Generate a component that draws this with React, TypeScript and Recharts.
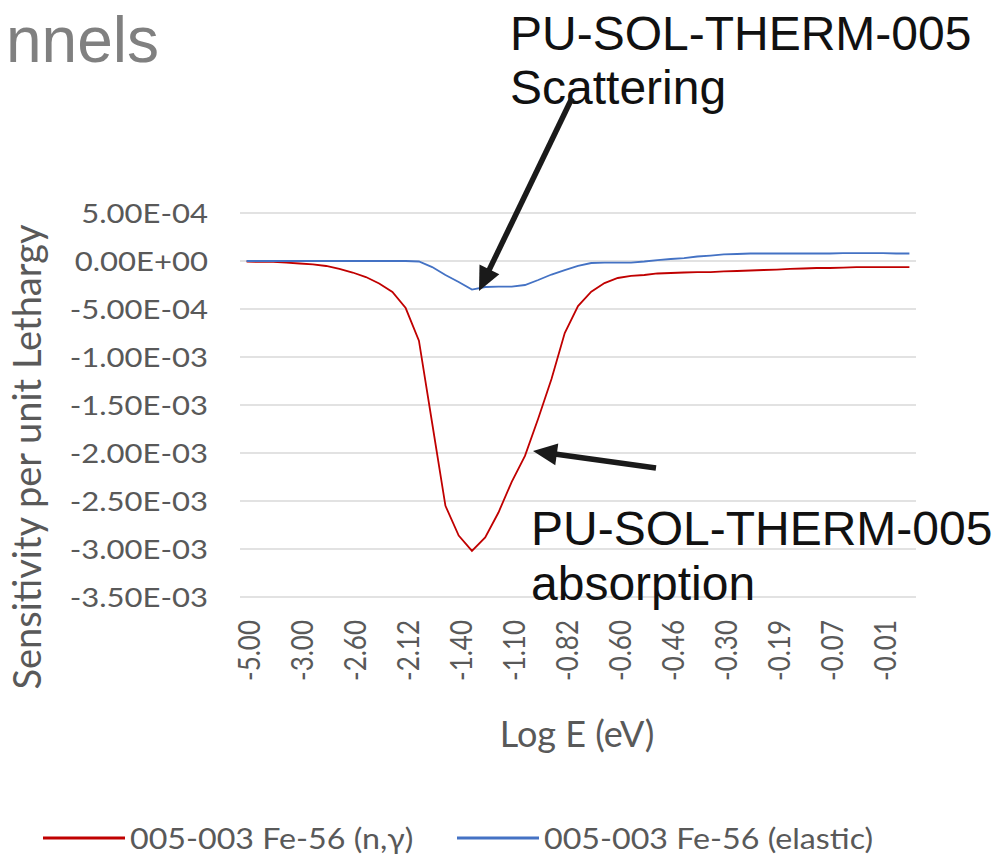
import React from "react";
import { LineChart, Line, XAxis, YAxis, CartesianGrid, Legend } from "recharts";

// tick labels shown under every 4th point of the category axis
const logELabels = ["-5.00", "-3.00", "-2.60", "-2.12", "-1.40", "-1.10", "-0.82", "-0.60", "-0.46", "-0.30", "-0.19", "-0.07", "-0.01"];

const yTicks = [0.0005, 0, -0.0005, -0.001, -0.0015, -0.002, -0.0025, -0.003, -0.0035];

// 005-003 Fe-56 (n,y)
const ngamma = [
  -5e-6, -1.0e-5, -1.0e-5, -1.6e-5, -2.6e-5, -3.6e-5, -5.2e-5, -8.3e-5, -1.2e-4, -1.67e-4,
  -2.34e-4, -3.23e-4, -4.9e-4, -8.3e-4, -1.69e-3, -2.55e-3, -2.86e-3, -3.02e-3, -2.88e-3, -2.62e-3,
  -2.3e-3, -2.03e-3, -1.64e-3, -1.23e-3, -7.5e-4, -4.7e-4, -3.2e-4, -2.3e-4, -1.77e-4, -1.56e-4,
  -1.46e-4, -1.3e-4, -1.25e-4, -1.2e-4, -1.15e-4, -1.15e-4, -1.09e-4, -1.04e-4, -9.9e-5, -9.4e-5,
  -8.9e-5, -8.3e-5, -7.8e-5, -7.3e-5, -7.3e-5, -6.8e-5, -6.3e-5, -6.3e-5, -6.3e-5, -6.3e-5, -6.3e-5,
];

// 005-003 Fe-56 (elastic)
const elastic = [
  0, 0, 0, 0, 0, 0, 0, 0, 0, 0,
  0, 0, 0, -5e-6, -6.3e-5, -1.46e-4, -2.19e-4, -2.97e-4, -2.71e-4, -2.66e-4,
  -2.66e-4, -2.5e-4, -1.98e-4, -1.41e-4, -9.4e-5, -5.2e-5, -2.1e-5, -1.6e-5, -1.6e-5, -1.6e-5,
  -5e-6, 1.0e-5, 2.1e-5, 3.1e-5, 4.7e-5, 5.7e-5, 6.8e-5, 7.3e-5, 7.8e-5, 7.8e-5,
  7.8e-5, 7.8e-5, 7.8e-5, 7.8e-5, 7.8e-5, 8.3e-5, 8.3e-5, 8.3e-5, 8.3e-5, 7.8e-5, 7.8e-5,
];

const seriesOrder = ["ngamma", "elastic"];

const data = ngamma.map((v, i) => ({ idx: i, ngamma: v, elastic: elastic[i] }));

const FONT = "Lato, 'Open Sans', sans-serif";
const AXIS_GREY = "#595959";

const fmtSci = (v: number) => {
  const [m, e] = v.toExponential(2).split("e");
  const sign = e[0] === "-" ? "-" : "+";
  const digits = e.replace(/[+-]/, "").padStart(2, "0");
  return `${m}E${sign}${digits}`;
};

const YTick = (props: any) => {
  const { x, y, payload } = props;
  return (
    <g transform={`translate(${x},${y}) scale(1.15,1)`}>
      <text x={0} y={10} textAnchor="end" fontFamily={FONT} fontSize={27} fill={AXIS_GREY}>
        {fmtSci(payload.value)}
      </text>
    </g>
  );
};

const XTick = (props: any) => {
  const { x, y, payload } = props;
  const label = logELabels[payload.value / 4];
  if (label === undefined) return null;
  return (
    <g transform={`translate(${x + 3},${y}) scale(1.15,1) rotate(-90)`}>
      <text x={0} y={9} textAnchor="end" fontFamily={FONT} fontSize={26} fill={AXIS_GREY}>
        {label}
      </text>
    </g>
  );
};

const renderLegend = (props: any) => {
  const payload = [...(props.payload || [])].sort(
    (a: any, b: any) => seriesOrder.indexOf(a.dataKey) - seriesOrder.indexOf(b.dataKey)
  );
  return (
    <div style={{ display: "flex", alignItems: "center", height: 40, paddingLeft: 43, fontFamily: FONT, fontSize: 28, color: AXIS_GREY }}>
      {payload.map((entry: any, i: number) => (
        <div key={i} style={{ display: "flex", alignItems: "center", width: i === 0 ? 414 : undefined }}>
          <svg width={82} height={6} style={{ display: "block" }}>
            <line x1={0} y1={3} x2={82} y2={3} stroke={entry.color} strokeWidth={3} />
          </svg>
          <span style={{ marginLeft: 5, display: "inline-block", transform: "scaleX(1.15)", transformOrigin: "left center", whiteSpace: "nowrap" }}>
            {entry.value}
          </span>
        </div>
      ))}
    </div>
  );
};

const Arrow = ({ x1, y1, x2, y2 }: { x1: number; y1: number; x2: number; y2: number }) => {
  const dx = x2 - x1;
  const dy = y2 - y1;
  const len = Math.sqrt(dx * dx + dy * dy);
  const ux = dx / len;
  const uy = dy / len;
  const headLen = 24;
  const half = 11;
  const bx = x2 - ux * headLen;
  const by = y2 - uy * headLen;
  return (
    <g>
      <line x1={x1} y1={y1} x2={bx + ux * 2} y2={by + uy * 2} stroke="#1a1a1a" strokeWidth={5.5} />
      <polygon
        points={`${x2},${y2} ${bx - uy * half},${by + ux * half} ${bx + uy * half},${by - ux * half}`}
        fill="#1a1a1a"
      />
    </g>
  );
};

export default function App() {
  return (
    <div style={{ position: "absolute", left: 0, top: 0, width: 996, height: 860, background: "#fff" }}>
      <LineChart width={996} height={860} data={data} margin={{ top: 213, right: 80, bottom: 2, left: 0 }}>
        <CartesianGrid vertical={false} stroke="#d9d9d9" strokeWidth={1.5} />
        <XAxis
          dataKey="idx"
          type="category"
          interval={3}
          height={221}
          padding={{ left: 6.6, right: 6.6 }}
          axisLine={false}
          tickLine={false}
          tickMargin={17}
          tick={<XTick />}
        />
        <YAxis
          domain={[-0.0035, 0.0005]}
          ticks={yTicks}
          width={240}
          axisLine={false}
          tickLine={false}
          tickMargin={26}
          tick={<YTick />}
        />
        <Legend verticalAlign="bottom" content={renderLegend} />
        <Line
          type="linear"
          dataKey="ngamma"
          name="005-003 Fe-56 (n,γ)"
          stroke="#c00000"
          strokeWidth={1.8}
          dot={false}
          isAnimationActive={false}
        />
        <Line
          type="linear"
          dataKey="elastic"
          name="005-003 Fe-56 (elastic)"
          stroke="#4472c4"
          strokeWidth={1.8}
          dot={false}
          isAnimationActive={false}
        />
      </LineChart>
      <svg width={996} height={860} style={{ position: "absolute", left: 0, top: 0, pointerEvents: "none" }}>
        <text x={159} y={62} textAnchor="end" fontFamily="'Liberation Sans', Arial, sans-serif" fontSize={64} fill="#808080">
          nnels
        </text>
        <text
          transform="translate(41,457) rotate(-90)"
          textAnchor="middle"
          fontFamily={FONT}
          fontSize={38}
          fill={AXIS_GREY}
        >
          Sensitivity per unit Lethargy
        </text>
        <text x={577} y={747} textAnchor="middle" fontFamily={FONT} fontSize={36} fill={AXIS_GREY}>
          Log E (eV)
        </text>
        <g fontFamily="'Liberation Sans', Arial, sans-serif" fontSize={48} fill="#111">
          <text x={510} y={50}>PU-SOL-THERM-005</text>
          <text x={510} y={104}>Scattering</text>
          <text x={531} y={545}>PU-SOL-THERM-005</text>
          <text x={531} y={600}>absorption</text>
        </g>
        <Arrow x1={572} y1={98} x2={479} y2={291} />
        <Arrow x1={656} y1={468} x2={533} y2={451} />
      </svg>
    </div>
  );
}
